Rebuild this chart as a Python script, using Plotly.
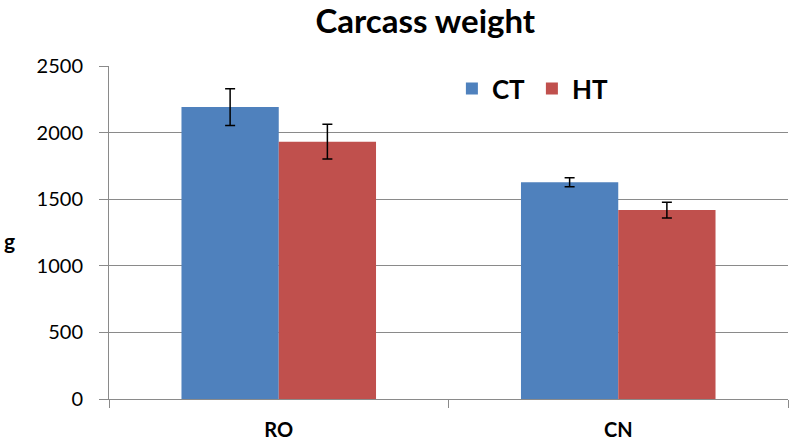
import plotly.graph_objects as go

categories = ["RO", "CN"]
ct_values = [2192, 1627]
ct_errors = [138, 34]
ht_values = [1932, 1418]
ht_errors = [130, 60]
series_names = ["CT", "HT"]
y_ticks = [0, 500, 1000, 1500, 2000, 2500]

FONT = "Lato"
BLUE = "#4F81BD"
RED = "#C0504D"
GRID = "#8A8A8A"

fig = go.Figure()
fig.add_trace(go.Bar(
    x=categories, y=ct_values, name="<b>" + series_names[0] + "</b>", marker_color=BLUE,
    marker_line_width=0,
    error_y=dict(type="data", array=ct_errors, color="black", thickness=1.5, width=5),
))
fig.add_trace(go.Bar(
    x=categories, y=ht_values, name="<b>" + series_names[1] + "</b>", marker_color=RED,
    marker_line_width=0,
    error_y=dict(type="data", array=ht_errors, color="black", thickness=1.5, width=5),
))

fig.update_layout(
    width=792, height=441,
    margin=dict(l=109, r=4, t=66, b=42),
    paper_bgcolor="white", plot_bgcolor="white",
    barmode="group", bargap=0.427, bargroupgap=0,
    font=dict(family=FONT, color="black"),
    title=dict(text="<b>Carcass weight</b>", xref="container", x=0.537, xanchor="center",
               yref="container", y=0.952, yanchor="middle",
               font=dict(family=FONT, size=33, color="black")),
    legend=dict(orientation="h", x=0.505, xanchor="left", y=0.932, yanchor="middle",
                font=dict(family=FONT, size=26, color="black"),
                bgcolor="rgba(0,0,0,0)", itemwidth=30, traceorder="normal",
                entrywidth=35, entrywidthmode="pixels"),
    showlegend=True,
)

fig.update_yaxes(
    range=[0, 2500], tickvals=y_ticks, ticktext=[str(v) for v in y_ticks],
    showgrid=True, gridcolor=GRID, gridwidth=1,
    showline=True, linecolor=GRID, linewidth=1,
    ticks="outside", ticklen=9, tickcolor=GRID, ticklabelstandoff=12,
    tickfont=dict(family=FONT, size=20, color="black"),
    zeroline=False, automargin=False,
)
fig.update_xaxes(
    showline=True, linecolor=GRID, linewidth=1,
    ticks="outside", ticklen=8, tickcolor=GRID, tickson="boundaries",
    ticklabelstandoff=13,
    tickfont=dict(family=FONT, size=20, color="black"),
    ticktext=["<b>" + c + "</b>" for c in categories], tickvals=categories,
    automargin=False,
)

fig.add_annotation(text="<b>g</b>", xref="paper", yref="paper", x=-0.146, y=0.475,
                   xanchor="center", yanchor="middle", showarrow=False,
                   font=dict(family=FONT, size=21, color="black"))

fig.write_html("out.html", config={"displayModeBar": False},
               post_script="document.body.style.margin='0';")
